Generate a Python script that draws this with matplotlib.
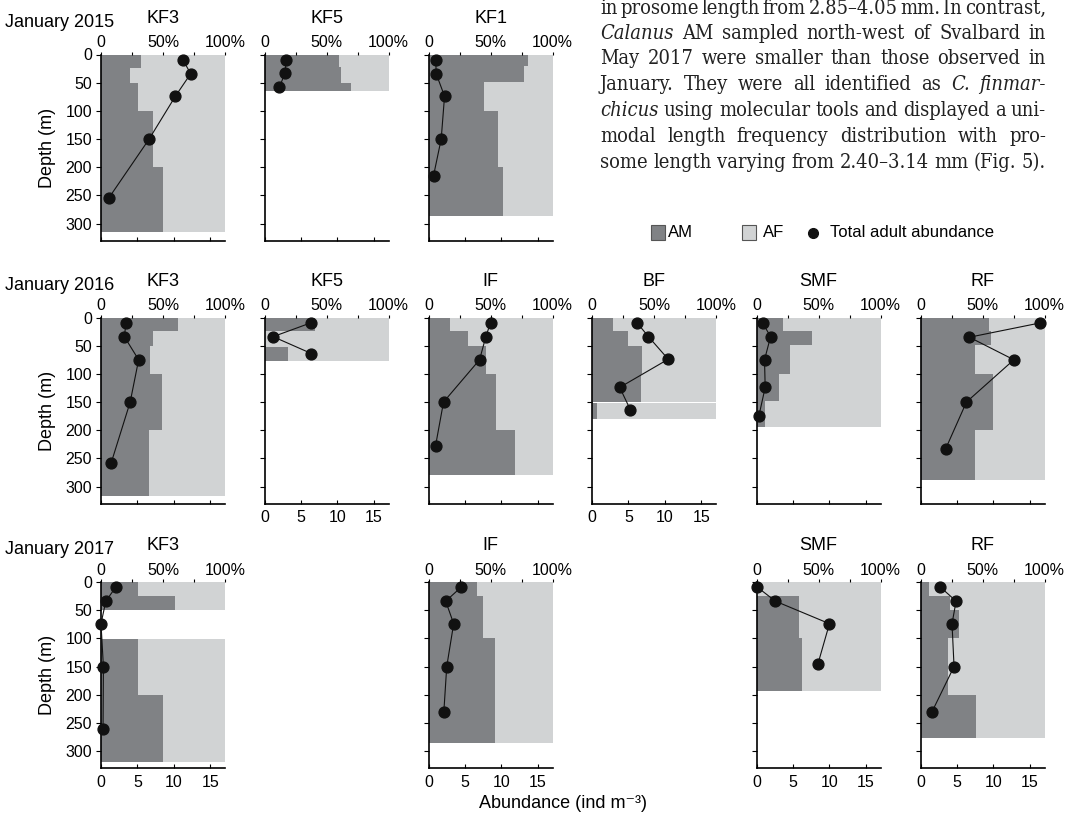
#coding=utf-8

import numpy as np
import matplotlib.pyplot as plt
from matplotlib.patches import Rectangle
from matplotlib.lines import Line2D

plt.rcParams['font.family'] = ['Liberation Sans', 'DejaVu Sans']

W, H = 1077, 816
DARK = '#808285'
LIGHT = '#d1d3d4'
XMAX = 17      # abundance scale (ind m-3) at the right edge
DMAX = 330     # depth at the bottom spine

# ---- data ----
# layer edges (m), share of AM in each layer (%), dot depth (m), total adult abundance (ind m-3)
kf3_15_edges = [0, 24, 50, 100, 200, 315]
kf3_15_am = [32, 23, 30, 42, 50]
kf3_15_depth = [9, 34, 74, 150, 255]
kf3_15_total = [11.2, 12.3, 10.2, 6.6, 1.05]

kf5_15_edges = [0, 23, 50, 65]
kf5_15_am = [60, 62, 70]
kf5_15_depth = [9, 33, 58]
kf5_15_total = [3.0, 2.8, 2.05]

kf1_15_edges = [0, 20, 48, 100, 200, 287]
kf1_15_am = [80, 77, 45, 56, 60]
kf1_15_depth = [9, 34, 74, 150, 215]
kf1_15_total = [1.0, 1.05, 2.2, 1.74, 0.69]

kf3_16_edges = [0, 24, 50, 100, 200, 316]
kf3_16_am = [62, 41.7, 39.5, 49, 38.7]
kf3_16_depth = [9.5, 34, 75, 150, 259]
kf3_16_total = [3.43, 3.2, 5.16, 4.0, 1.37]

kf5_16_edges = [0, 24, 52, 78]
kf5_16_am = [40.8, 0, 19.2]
kf5_16_depth = [9.5, 34, 64]
kf5_16_total = [6.35, 1.18, 6.44]

if_16_edges = [0, 24, 50, 100, 200, 280]
if_16_am = [17.7, 32, 46.5, 54.8, 69.4]
if_16_depth = [9.5, 34, 75, 150, 228]
if_16_total = [8.5, 7.86, 7.0, 2.06, 0.96]

bf_16_edges = [0, 24, 50, 100, 150, 152, 180]
bf_16_am = [17.3, 28.8, 40.7, 39.9, np.nan, 4.3]
bf_16_depth = [9.5, 34, 74, 124, 164]
bf_16_total = [6.19, 7.74, 10.45, 3.8, 5.27]

smf_16_edges = [0, 24, 48, 100, 149, 195]
smf_16_am = [21, 44.6, 27, 17.8, 6.8]
smf_16_depth = [9.5, 34, 75, 124, 175]
smf_16_total = [0.83, 1.93, 1.1, 1.19, 0.32]

rf_16_edges = [0, 24, 48, 100, 199, 288]
rf_16_am = [55.4, 57, 44, 58.6, 44]
rf_16_depth = [9.5, 35, 75, 150, 233]
rf_16_total = [16.45, 6.7, 12.8, 6.3, 3.45]

kf3_17_edges = [0, 24, 49, 102, 201, 320]
kf3_17_am = [30, 60, np.nan, 30, 50]
kf3_17_depth = [9, 34, 74, 150, 261]
kf3_17_total = [2.03, 0.66, 0, 0.33, 0.28]

if_17_edges = [0, 24, 50, 100, 204, 286]
if_17_am = [38.9, 43.6, 43.6, 53.3, 54]
if_17_depth = [9, 34, 74, 150, 231]
if_17_total = [4.49, 2.36, 3.45, 2.5, 2.1]

smf_17_edges = [0, 24, 50, 100, 194]
smf_17_am = [0, 34.3, 34.3, 36.8]
smf_17_depth = [9, 34, 74, 145]
smf_17_total = [0.09, 2.59, 10.0, 8.43]

rf_17_edges = [0, 24, 50, 100, 201, 277]
rf_17_am = [6.9, 24, 31, 22, 45]
rf_17_depth = [9, 34, 74, 150, 231]
rf_17_total = [2.72, 4.88, 4.32, 4.6, 1.55]

years = ['January 2015', 'January 2016', 'January 2017']

# text of the article page next to the figure ("*word*" = italic)
page_lines = [
    "in prosome length from 2.85–4.05 mm. In contrast,",
    "*Calanus* AM sampled north-west of Svalbard in",
    "May 2017 were smaller than those observed in",
    "January. They were all identified as *C.* *finmar-*",
    "*chicus* using molecular tools and displayed a uni-",
    "modal length frequency distribution with pro-",
    "some length varying from 2.40–3.14 mm (Fig. 5).",
]

# ---- layout in pixels ----
col_left = [101, 264.5, 428.5, 592, 756.5, 920.5]
row_top = [54.5, 317.5, 582]
PW, PH = 124, 186


def fx(x):
    return x / W


def fy(y):
    return 1 - y / H


def panel(fig, row, col, name, edges, am, depth, total, xlabels):
    l, t = col_left[col], row_top[row]
    ax = fig.add_axes([fx(l), fy(t + PH), PW / W, PH / H])
    ax.set_xlim(0, 100)
    ax.set_ylim(DMAX, 0)

    edges = np.array(edges, float)
    am = np.array(am, float)
    tops, thick = edges[:-1], np.diff(edges)
    ok = ~np.isnan(am)
    ax.barh(tops[ok], am[ok], height=thick[ok], align='edge', color=DARK, linewidth=0)
    ax.barh(tops[ok], 100 - am[ok], left=am[ok], height=thick[ok], align='edge',
            color=LIGHT, linewidth=0)

    # abundance axis on bottom (twin drawn above the bars)
    ax2 = ax.twiny()
    ax2.set_xlim(0, XMAX)
    ax2.xaxis.tick_bottom()
    ax2.set_xticks([0, 5, 10, 15])
    ax2.tick_params(axis='x', direction='in', length=3, width=0.8, pad=5,
                    labelsize=11.5, labelbottom=xlabels, labeltop=False)
    for s in ax2.spines.values():
        s.set_visible(False)
    ax2.plot(total, depth, '-o', color='#111111', lw=0.8, ms=7.8, clip_on=False)

    # percentage axis on top (twiny resets it, so set it afterwards)
    ax.xaxis.tick_top()
    ax.set_xticks([0, 50, 100])
    ax.set_xticklabels(['0', '50%', '100%'])
    ax.set_xticks([25, 75], minor=True)
    ax.tick_params(axis='x', which='both', direction='out', length=2.5, width=0.8,
                   pad=0.5, labelsize=11.5, labeltop=True, labelbottom=False)
    ax.set_yticks(np.arange(0, 301, 50))
    ax.tick_params(axis='y', direction='out', length=3.5, width=0.8, pad=3,
                   labelsize=11.5, labelleft=(col == 0))
    for s in ['top', 'right']:
        ax.spines[s].set_visible(False)
    for s in ['left', 'bottom']:
        ax.spines[s].set_linewidth(1.2)
    if col == 0:
        ax.set_ylabel('Depth (m)', fontsize=13, labelpad=7)

    ax.annotate(name, (0.5, 1), xycoords='axes fraction', xytext=(0, 36),
                textcoords='offset pixels', ha='center', va='center', fontsize=13)
    return ax


def page_text(fig):
    x0, x1 = 600, 1046
    base = [13.5, 39, 64.5, 90.5, 116, 142, 167.5]
    r = fig.canvas.get_renderer()
    font = dict(family='DejaVu Serif', stretch='condensed')

    def words(line):
        out = []
        for w in line.split(' '):
            it = w.startswith('*') and w.endswith('*')
            out.append((w.strip('*'), 'italic' if it else 'normal'))
        return out

    # font size so that the last (unjustified) line fills the column
    probe = fig.text(0, 0, page_lines[-1], fontsize=10, **font)
    size = 10 * (x1 - x0) / probe.get_window_extent(r).width
    probe.remove()

    for i, line in enumerate(page_lines):
        arts = [fig.text(0, fy(base[i]), w, style=st, fontsize=size, va='baseline',
                         color='#222222', **font) for w, st in words(line)]
        wid = [a.get_window_extent(r).width for a in arts]
        gap = (x1 - x0 - sum(wid)) / (len(arts) - 1)
        x = x0
        for a, w in zip(arts, wid):
            a.set_x(fx(x))
            x += w + gap


def legend(fig):
    y = 232.5
    for x, c in [(650.5, DARK), (742, LIGHT)]:
        fig.add_artist(Rectangle((fx(x), fy(y + 7)), 14 / W, 14 / H, transform=fig.transFigure,
                                 facecolor=c, edgecolor='#555555', linewidth=0.8))
    fig.add_artist(Line2D([fx(813)], [fy(y)], marker='o', ms=7, color='#111111',
                          transform=fig.transFigure))
    for x, s in [(668, 'AM'), (763, 'AF'), (830, 'Total adult abundance')]:
        fig.text(fx(x), fy(y), s, va='center', fontsize=12)


def main():
    fig = plt.figure(figsize=(W / 100, H / 100), dpi=100)

    panel(fig, 0, 0, 'KF3', kf3_15_edges, kf3_15_am, kf3_15_depth, kf3_15_total, False)
    panel(fig, 0, 1, 'KF5', kf5_15_edges, kf5_15_am, kf5_15_depth, kf5_15_total, False)
    panel(fig, 0, 2, 'KF1', kf1_15_edges, kf1_15_am, kf1_15_depth, kf1_15_total, False)

    panel(fig, 1, 0, 'KF3', kf3_16_edges, kf3_16_am, kf3_16_depth, kf3_16_total, False)
    panel(fig, 1, 1, 'KF5', kf5_16_edges, kf5_16_am, kf5_16_depth, kf5_16_total, True)
    panel(fig, 1, 2, 'IF', if_16_edges, if_16_am, if_16_depth, if_16_total, False)
    panel(fig, 1, 3, 'BF', bf_16_edges, bf_16_am, bf_16_depth, bf_16_total, True)
    panel(fig, 1, 4, 'SMF', smf_16_edges, smf_16_am, smf_16_depth, smf_16_total, False)
    panel(fig, 1, 5, 'RF', rf_16_edges, rf_16_am, rf_16_depth, rf_16_total, False)

    panel(fig, 2, 0, 'KF3', kf3_17_edges, kf3_17_am, kf3_17_depth, kf3_17_total, True)
    panel(fig, 2, 2, 'IF', if_17_edges, if_17_am, if_17_depth, if_17_total, True)
    panel(fig, 2, 4, 'SMF', smf_17_edges, smf_17_am, smf_17_depth, smf_17_total, True)
    panel(fig, 2, 5, 'RF', rf_17_edges, rf_17_am, rf_17_depth, rf_17_total, True)

    for t, label in zip(row_top, years):
        fig.text(fx(5), fy(t - 32), label, va='center', fontsize=13)

    fig.text(fx(563), fy(804), 'Abundance (ind m⁻³)', ha='center', va='center', fontsize=13)

    legend(fig)
    page_text(fig)

    fig.savefig('out.png', dpi=100)


if __name__ == '__main__':
    main()
